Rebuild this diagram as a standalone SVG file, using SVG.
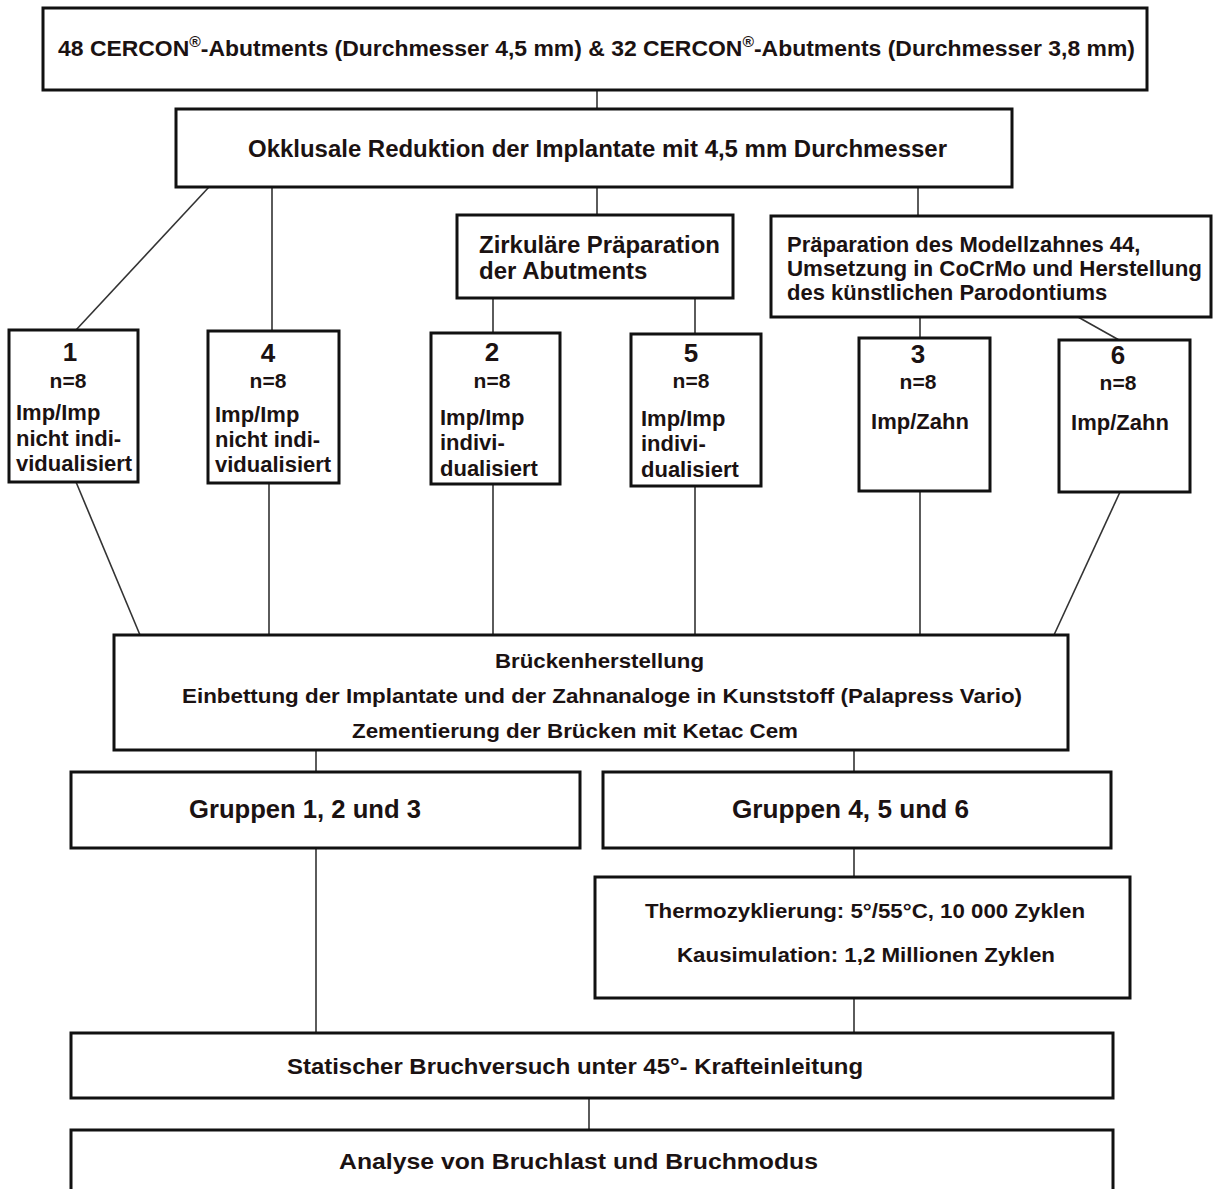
<svg xmlns="http://www.w3.org/2000/svg" width="1214" height="1189" viewBox="0 0 1214 1189">
<style>
  .box { fill: #ffffff; stroke: #111111; stroke-width: 3; }
  .t { font-family: "Liberation Sans", Arial, sans-serif; font-weight: bold; fill: #1b1212; }
  .c { text-anchor: middle; }
  .num { font-size: 26px; }
  .n8 { font-size: 21px; }
  .lbl { font-size: 22px; }
  .conn line { stroke: #333333; stroke-width: 1.6; }
</style>
<rect x="0" y="0" width="1214" height="1189" fill="#ffffff"/>

<g id="connectors" class="conn">
  <line x1="597" y1="90" x2="597" y2="109"/>
  <line x1="209" y1="187" x2="76" y2="330"/>
  <line x1="272" y1="187" x2="272" y2="331"/>
  <line x1="597" y1="187" x2="597" y2="215"/>
  <line x1="918" y1="187" x2="918" y2="216"/>
  <line x1="493" y1="298" x2="493" y2="333"/>
  <line x1="695" y1="298" x2="695" y2="334"/>
  <line x1="920" y1="317" x2="920" y2="338"/>
  <line x1="1078" y1="317" x2="1119" y2="340"/>
  <line x1="76" y1="482" x2="140" y2="635"/>
  <line x1="269" y1="483" x2="269" y2="635"/>
  <line x1="493" y1="484" x2="493" y2="635"/>
  <line x1="695" y1="486" x2="695" y2="635"/>
  <line x1="920" y1="491" x2="920" y2="635"/>
  <line x1="1120" y1="492" x2="1054" y2="635"/>
  <line x1="316" y1="750" x2="316" y2="772"/>
  <line x1="854" y1="750" x2="854" y2="772"/>
  <line x1="316" y1="848" x2="316" y2="1033"/>
  <line x1="854" y1="848" x2="854" y2="877"/>
  <line x1="854" y1="998" x2="854" y2="1033"/>
  <line x1="589" y1="1098" x2="589" y2="1130"/>
</g>

<g id="n-top">
  <rect class="box" x="43" y="8" width="1104" height="82"/>
  <text class="t" x="58" y="56" font-size="22" textLength="1077" lengthAdjust="spacingAndGlyphs">48 CERCON<tspan font-size="15" dy="-9">®</tspan><tspan dy="9">-Abutments (Durchmesser 4,5 mm) &amp; 32 CERCON</tspan><tspan font-size="15" dy="-9">®</tspan><tspan dy="9">-Abutments (Durchmesser 3,8 mm)</tspan></text>
</g>

<g id="n-okklusal">
  <rect class="box" x="176" y="109" width="836" height="78"/>
  <text class="t" x="248" y="157" font-size="23" textLength="699" lengthAdjust="spacingAndGlyphs">Okklusale Reduktion der Implantate mit 4,5 mm Durchmesser</text>
</g>

<g id="n-zirkulaer">
  <rect class="box" x="457" y="215" width="276" height="83"/>
  <text class="t" x="479" y="253" font-size="24" textLength="241" lengthAdjust="spacingAndGlyphs">Zirkuläre Präparation</text>
  <text class="t" x="479" y="279" font-size="24">der Abutments</text>
</g>

<g id="n-praeparation">
  <rect class="box" x="771" y="216" width="440" height="101"/>
  <text class="t" x="787" y="252" font-size="22">Präparation des Modellzahnes 44,</text>
  <text class="t" x="787" y="276" font-size="22" textLength="415" lengthAdjust="spacingAndGlyphs">Umsetzung in CoCrMo und Herstellung</text>
  <text class="t" x="787" y="300" font-size="22">des künstlichen Parodontiums</text>
</g>

<g id="n-g1">
  <rect class="box" x="9" y="330" width="129" height="152"/>
  <text class="t c num" x="70" y="361">1</text>
  <text class="t c n8" x="68" y="388">n=8</text>
  <text class="t lbl" x="16" y="420">Imp/Imp</text>
  <text class="t lbl" x="16" y="446">nicht indi-</text>
  <text class="t lbl" x="16" y="471">vidualisiert</text>
</g>

<g id="n-g4">
  <rect class="box" x="208" y="331" width="131" height="152"/>
  <text class="t c num" x="268" y="362">4</text>
  <text class="t c n8" x="268" y="388">n=8</text>
  <text class="t lbl" x="215" y="422">Imp/Imp</text>
  <text class="t lbl" x="215" y="447">nicht indi-</text>
  <text class="t lbl" x="215" y="472">vidualisiert</text>
</g>

<g id="n-g2">
  <rect class="box" x="431" y="333" width="129" height="151"/>
  <text class="t c num" x="492" y="361">2</text>
  <text class="t c n8" x="492" y="388">n=8</text>
  <text class="t lbl" x="440" y="425">Imp/Imp</text>
  <text class="t lbl" x="440" y="450">indivi-</text>
  <text class="t lbl" x="440" y="476">dualisiert</text>
</g>

<g id="n-g5">
  <rect class="box" x="631" y="334" width="130" height="152"/>
  <text class="t c num" x="691" y="362">5</text>
  <text class="t c n8" x="691" y="388">n=8</text>
  <text class="t lbl" x="641" y="426">Imp/Imp</text>
  <text class="t lbl" x="641" y="451">indivi-</text>
  <text class="t lbl" x="641" y="477">dualisiert</text>
</g>

<g id="n-g3">
  <rect class="box" x="859" y="338" width="131" height="153"/>
  <text class="t c num" x="918" y="363">3</text>
  <text class="t c n8" x="918" y="389">n=8</text>
  <text class="t c lbl" x="920" y="429">Imp/Zahn</text>
</g>

<g id="n-g6">
  <rect class="box" x="1059" y="340" width="131" height="152"/>
  <text class="t c num" x="1118" y="364">6</text>
  <text class="t c n8" x="1118" y="390">n=8</text>
  <text class="t c lbl" x="1120" y="430">Imp/Zahn</text>
</g>

<g id="n-bruecken">
  <rect class="box" x="114" y="635" width="954" height="115"/>
  <text class="t" x="495" y="668" font-size="20" textLength="209" lengthAdjust="spacingAndGlyphs">Brückenherstellung</text>
  <text class="t" x="182" y="703" font-size="20" textLength="840" lengthAdjust="spacingAndGlyphs">Einbettung der Implantate und der Zahnanaloge in Kunststoff (Palapress Vario)</text>
  <text class="t" x="352" y="738" font-size="20" textLength="446" lengthAdjust="spacingAndGlyphs">Zementierung der Brücken mit Ketac Cem</text>
</g>

<g id="n-gruppen123">
  <rect class="box" x="71" y="772" width="509" height="76"/>
  <text class="t" x="189" y="818" font-size="26" textLength="232" lengthAdjust="spacingAndGlyphs">Gruppen 1, 2 und 3</text>
</g>

<g id="n-gruppen456">
  <rect class="box" x="603" y="772" width="508" height="76"/>
  <text class="t" x="732" y="818" font-size="26" textLength="237" lengthAdjust="spacingAndGlyphs">Gruppen 4, 5 und 6</text>
</g>

<g id="n-thermo">
  <rect class="box" x="595" y="877" width="535" height="121"/>
  <text class="t" x="645" y="918" font-size="20" textLength="440" lengthAdjust="spacingAndGlyphs">Thermozyklierung: 5°/55°C, 10 000 Zyklen</text>
  <text class="t" x="677" y="962" font-size="20" textLength="378" lengthAdjust="spacingAndGlyphs">Kausimulation: 1,2 Millionen Zyklen</text>
</g>

<g id="n-statisch">
  <rect class="box" x="71" y="1033" width="1042" height="65"/>
  <text class="t" x="287" y="1074" font-size="22" textLength="576" lengthAdjust="spacingAndGlyphs">Statischer Bruchversuch unter 45°- Krafteinleitung</text>
</g>

<g id="n-analyse">
  <rect class="box" x="71" y="1130" width="1042" height="70"/>
  <text class="t" x="339" y="1169" font-size="22" textLength="479" lengthAdjust="spacingAndGlyphs">Analyse von Bruchlast und Bruchmodus</text>
</g>
</svg>
